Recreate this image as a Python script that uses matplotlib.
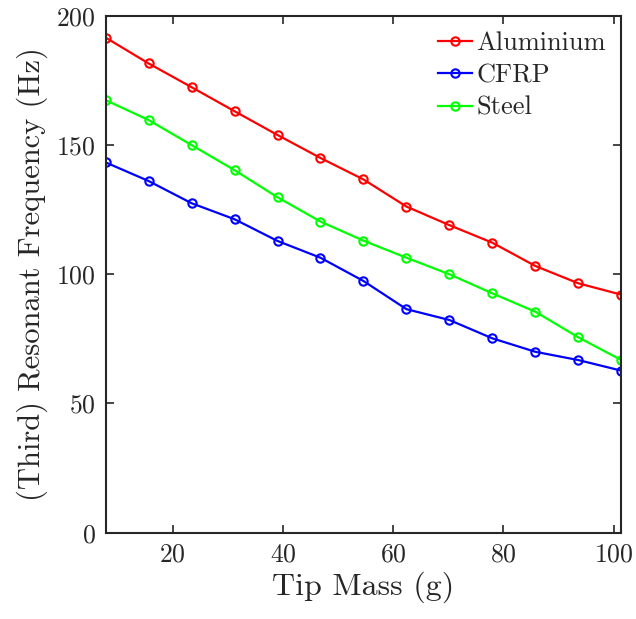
import numpy as np
import matplotlib
matplotlib.use("Agg")
import matplotlib.pyplot as plt

plt.rcParams['font.family'] = 'serif'
plt.rcParams['font.serif'] = ['cmr10']
plt.rcParams['mathtext.fontset'] = 'cm'
plt.rcParams['axes.formatter.use_mathtext'] = True

tip_mass = [7.8, 15.6, 23.4, 31.2, 39.0, 46.8, 54.6, 62.4, 70.2, 78.0, 85.8, 93.6, 101.4]
aluminium = [191.6, 181.6, 172.4, 163.1, 153.9, 145.0, 136.7, 126.2, 119.0, 112.2, 103.2, 96.5, 92.1]
cfrp = [143.3, 136.1, 127.5, 121.3, 112.9, 106.4, 97.4, 86.5, 82.3, 75.2, 70.0, 66.8, 62.7]
steel = [167.4, 159.7, 150.0, 140.3, 129.8, 120.4, 113.0, 106.4, 100.0, 92.6, 85.5, 75.6, 66.8]

fig = plt.figure(figsize=(6.36, 6.19), dpi=100)
ax = fig.add_axes([0.166, 0.1394, 0.811, 0.835])

ax.plot(tip_mass, aluminium, '-o', color='#ff0000', lw=1.6, ms=6, mfc='none', mew=1.5, label='Aluminium')
ax.plot(tip_mass, cfrp, '-o', color='#0000ff', lw=1.6, ms=6, mfc='none', mew=1.5, label='CFRP')
ax.plot(tip_mass, steel, '-o', color='#00ff00', lw=1.6, ms=6, mfc='none', mew=1.5, label='Steel')

ax.set_xlim(7.8, 101.4)
ax.set_ylim(0, 200)
ax.set_xticks([20, 40, 60, 80, 100])
ax.set_yticks([0, 50, 100, 150, 200])
ax.tick_params(direction='in', top=True, right=True, labelsize=18.5, length=6, width=1.2,
               colors='#262626', pad=7)
for s in ax.spines.values():
    s.set_linewidth(1.5)
    s.set_color('#262626')

ax.set_xlabel('Tip Mass (g)', fontsize=23, color='#262626', labelpad=4)
ax.set_ylabel('(Third) Resonant Frequency (Hz)', fontsize=22, color='#262626', labelpad=6)

leg = ax.legend(loc='upper right', frameon=False, fontsize=19, handlelength=1.3,
                handletextpad=0.15, labelspacing=0.32, borderaxespad=0.2)
for t in leg.get_texts():
    t.set_color('#262626')

fig.savefig('out.png', dpi=100)
